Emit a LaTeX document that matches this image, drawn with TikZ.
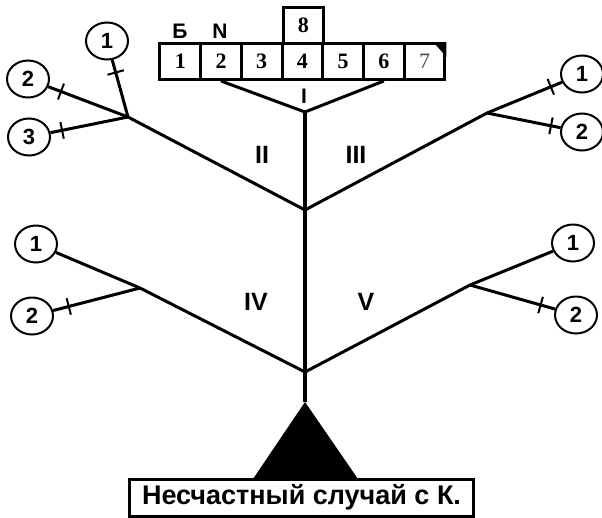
\documentclass[tikz,border=0pt]{standalone}
\usepackage{fontspec}
\setmainfont{Liberation Serif}
\setsansfont{Liberation Sans}
\usetikzlibrary{shapes.geometric}
\tikzset{
  num/.style={ellipse,draw=black,line width=2pt,minimum width=42pt,minimum height=37pt,inner sep=0pt,font=\sffamily\bfseries\fontsize{22}{22}\selectfont},
  cell/.style={rectangle,draw=black,line width=3pt,minimum width=40.7pt,minimum height=36pt,inner sep=0pt,font=\bfseries\fontsize{22}{22}\selectfont},
  branch/.style={draw=black,line width=3pt},
  crossbar/.style={draw=black,line width=2pt,minimum height=17pt,minimum width=0pt,inner sep=0pt,sloped},
  lbl/.style={font=\sffamily\bfseries\fontsize{21}{21}\selectfont},
  roman/.style={font=\sffamily\bfseries\fontsize{25}{25}\selectfont},
}

\begin{document}
\begin{tikzpicture}[x=1pt,y=-1pt]
\useasboundingbox (0,0) rectangle (602,517);
% top row of cells
\foreach \i in {1,...,7} {
  \node[cell] (c\i) at ({180.3+40.7*(\i-1)},61.5) {\i};
}
\node[cell] (c8) at (303.4,25) {8};
\node[cell,fill=white,font=\fontsize{22}{22}\selectfont,text=black!70] (c7) at (424.5,61.5) {7};
\fill (c7.north east) -- ++(-13,0) -- ++(13,15) -- cycle;
\node[lbl] (b) at (180,31) {Б};
\node[lbl] (n) at (220,31) {N};
% junctions
\coordinate (jI) at (305,112);
\coordinate (jA) at (305,210);
\coordinate (jB) at (305,372);
\coordinate (apex) at (305,402);
\coordinate (jII) at (128,117);
\coordinate (jIII) at (487,113);
\coordinate (jIV) at (140,288);
\coordinate (jV) at (470,285);
% circles
\node[num] (a1) at (107,41) {1};
\node[num] (a2) at (28,79) {2};
\node[num] (a3) at (29,137) {3};
\node[num] (b1) at (582,74) {1};
\node[num] (b2) at (582,132) {2};
\node[num] (d1) at (36,244) {1};
\node[num] (d2) at (32,316) {2};
\node[num] (e1) at (573,243) {1};
\node[num] (e2) at (576,315) {2};
% trunk
\path[branch] (c2.south) edge (jI);
\path[branch] (c6.south) edge (jI);
\path[branch,line width=3.5pt] (jI) edge (apex);
\node[lbl] (rI) at (304,96) {I};
% branches II and III
\path[branch] (jA) edge (jII);
\path[branch] (jII) edge node[crossbar,pos=0.84]{} (a2);
\path[branch] (jII) edge node[crossbar,pos=0.78]{} (a1);
\path[branch] (jII) edge node[crossbar,pos=0.85]{} (a3);
\path[branch] (jA) edge (jIII);
\path[branch] (jIII) edge node[crossbar,pos=0.85]{} (b1);
\path[branch] (jIII) edge node[crossbar,pos=0.87]{} (b2);
\node[roman] (rII) at (262,155) {II};
\node[roman] (rIII) at (356,155) {III};
% branches IV and V
\path[branch] (jB) edge (jIV);
\path[branch] (jIV) edge (d1);
\path[branch] (jIV) edge node[crossbar,pos=0.82]{} (d2);
\path[branch] (jB) edge (jV);
\path[branch] (jV) edge (e1);
\path[branch] (jV) edge node[crossbar,pos=0.83]{} (e2);
\node[roman] (rIV) at (256,302) {IV};
\node[roman] (rV) at (366,302) {V};
% top event
\fill (apex) -- (253,479) -- (358,479) -- cycle;
\node[draw=black,line width=3pt,minimum width=344pt,minimum height=37pt,inner sep=0pt,
  font=\sffamily\bfseries\fontsize{27}{27}\selectfont] (event) at (301.5,497.5) {Несчастный случай с К.};
\end{tikzpicture}
\end{document}
